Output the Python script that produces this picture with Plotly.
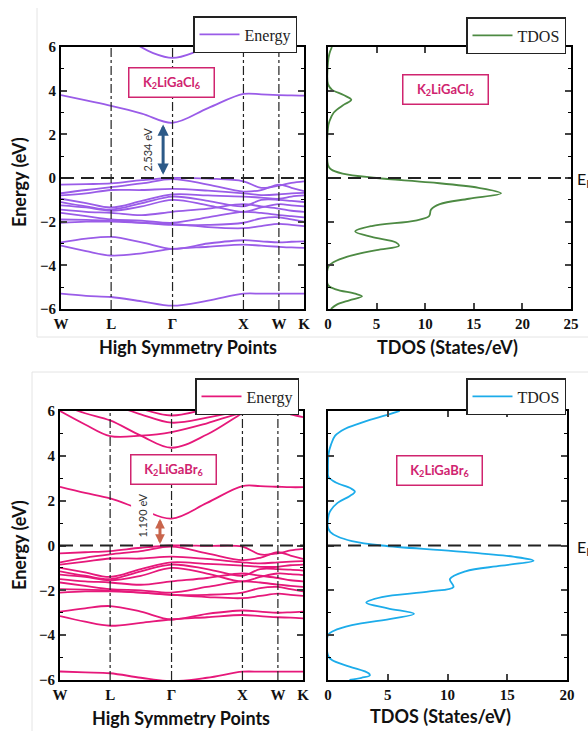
import plotly.graph_objects as go

# ---------------- data ----------------
K_PATH = [0.0, 0.354, 0.707, 1.140, 1.573, 2.073, 2.573, 2.823, 3.073, 3.250, 3.427]
HS_K = [0.0, 0.707, 1.573, 2.573, 3.073, 3.427]
HS_LABELS = ["W", "L", "Γ", "X", "W", "K"]

CL_VB = [
    [-0.30, -0.28, -0.25, -0.10, 0.00, -0.03, -0.15, -0.45, -0.35, -0.22, -0.15],
    [-0.70, -0.55, -0.42, -0.25, -0.05, -0.30, -0.62, -0.55, -0.30, -0.45, -0.60],
    [-0.80, -0.70, -0.55, -0.55, -0.50, -0.58, -0.70, -0.78, -0.75, -0.70, -0.68],
    [-0.95, -1.15, -1.35, -1.05, -0.75, -0.80, -0.85, -0.90, -0.95, -0.85, -0.80],
    [-1.10, -1.30, -1.45, -1.15, -0.85, -1.05, -1.30, -1.00, -1.00, -1.05, -1.10],
    [-1.25, -1.35, -1.50, -1.30, -1.00, -1.25, -1.55, -1.35, -1.20, -1.25, -1.30],
    [-1.45, -1.55, -1.60, -1.70, -1.55, -1.40, -1.20, -1.30, -1.40, -1.50, -1.55],
    [-1.60, -1.75, -1.90, -1.95, -2.05, -1.80, -1.55, -1.60, -1.70, -1.75, -1.80],
    [-1.90, -1.92, -1.95, -2.05, -2.15, -2.15, -2.05, -1.85, -1.80, -1.90, -2.00],
    [-2.05, -2.00, -2.00, -2.05, -2.10, -2.25, -2.30, -2.20, -2.10, -2.15, -2.20],
    [-2.95, -2.78, -2.70, -2.95, -3.25, -3.00, -2.85, -2.90, -2.95, -2.92, -2.90],
    [-3.10, -3.35, -3.55, -3.45, -3.25, -3.15, -3.05, -3.10, -3.15, -3.18, -3.20],
    [-5.30, -5.40, -5.45, -5.65, -5.85, -5.62, -5.30, -5.30, -5.30, -5.30, -5.30],
]
CL_CB = [
    [3.80, 3.55, 3.30, 2.95, 2.53, 3.20, 3.85, 3.83, 3.80, 3.78, 3.77],
]
CL_CB_UPPER_K = [1.05, 1.30, 1.573, 1.85, 2.10]
CL_CB_UPPER_E = [6.15, 5.72, 5.50, 5.72, 6.15]

BR_VB = [
    [-0.35, -0.30, -0.25, -0.10, 0.00, -0.02, -0.05, -0.40, -0.35, -0.22, -0.15],
    [-0.75, -0.55, -0.40, -0.25, -0.05, -0.35, -0.65, -0.55, -0.30, -0.45, -0.60],
    [-0.85, -0.72, -0.58, -0.58, -0.50, -0.60, -0.75, -0.80, -0.75, -0.72, -0.70],
    [-1.00, -1.20, -1.40, -1.05, -0.75, -0.82, -0.90, -0.95, -0.95, -0.88, -0.85],
    [-1.15, -1.35, -1.50, -1.15, -0.85, -1.05, -1.35, -1.05, -1.05, -1.08, -1.12],
    [-1.30, -1.40, -1.55, -1.35, -1.00, -1.25, -1.60, -1.40, -1.25, -1.28, -1.32],
    [-1.50, -1.60, -1.65, -1.75, -1.60, -1.45, -1.25, -1.35, -1.45, -1.55, -1.60],
    [-1.65, -1.80, -1.95, -2.00, -2.10, -1.85, -1.60, -1.65, -1.75, -1.80, -1.85],
    [-1.95, -1.97, -2.00, -2.10, -2.20, -2.20, -2.10, -1.90, -1.85, -1.95, -2.05],
    [-2.10, -2.05, -2.05, -2.10, -2.20, -2.30, -2.35, -2.25, -2.15, -2.20, -2.25],
    [-2.95, -2.80, -2.70, -2.95, -3.30, -3.05, -2.90, -2.95, -3.00, -2.98, -2.95],
    [-3.15, -3.40, -3.58, -3.45, -3.30, -3.20, -3.10, -3.15, -3.20, -3.22, -3.25],
    [-5.62, -5.66, -5.70, -5.90, -6.05, -5.90, -5.63, -5.63, -5.63, -5.63, -5.63],
]
BR_CB = [
    [2.62, 2.35, 2.10, 1.62, 1.20, 1.90, 2.65, 2.65, 2.62, 2.60, 2.60],
    [6.30, 5.90, 5.58, 4.90, 4.36, 4.95, 5.90, 6.30, 6.60, 6.60, 6.60],
    [6.00, 5.40, 4.88, 4.90, 5.06, 5.45, 5.92, 5.95, 6.00, 5.85, 5.73],
    [6.80, 6.50, 6.30, 5.85, 5.48, 5.70, 6.05, 6.30, 6.50, 6.50, 6.50],
    [7.00, 6.80, 6.60, 6.10, 5.80, 6.10, 6.50, 6.80, 7.00, 7.00, 7.00],
]

CL_DOS_E = [6.0, 5.7, 5.3, 4.3, 4.05, 3.8, 3.58, 3.35, 3.0, 2.6, 2.3, 0.6, 0.4, 0.2, 0.0,
            -0.2, -0.45, -0.7, -0.95, -1.2, -1.45, -1.75, -1.95, -2.2, -2.45, -2.7, -2.95,
            -3.1, -3.3, -3.6, -3.85, -4.05, -4.9, -5.1, -5.3, -5.42, -5.6, -5.8, -6.0]
CL_DOS = [0.4, 0.15, 0.0, 0.0, 0.4, 1.6, 2.4, 1.6, 0.6, 0.15, 0.0, 0.0, 0.3, 1.5, 5.0,
          10.5, 15.5, 17.8, 14.5, 11.5, 10.6, 10.4, 9.0, 4.5, 2.8, 4.5, 7.0,
          7.3, 5.0, 2.0, 0.6, 0.05, 0.0, 0.8, 2.8, 3.5, 2.2, 0.9, 0.3]

BR_DOS_E = [6.0, 5.8, 5.6, 5.4, 5.2, 4.9, 4.5, 4.1, 3.4, 3.05, 2.8, 2.55, 2.4, 2.2, 1.9, 1.5,
            1.2, 0.8, 0.6, 0.4, 0.2, 0.0, -0.25, -0.5, -0.68, -0.9, -1.15, -1.5, -1.85,
            -2.05, -2.3, -2.55, -2.8, -3.05, -3.25, -3.55, -3.8, -4.0, -4.9, -5.1, -5.4,
            -5.7, -5.8, -5.9, -6.0]
BR_DOS = [6.0, 4.8, 3.5, 2.4, 1.4, 0.6, 0.25, 0.05, 0.0, 0.05, 0.7, 1.9, 2.25, 1.8, 0.8, 0.15,
          0.0, 0.0, 0.2, 0.8, 2.0, 4.5, 10.5, 15.5, 17.2, 14.5, 11.5, 10.2, 10.5,
          8.5, 4.5, 3.2, 5.0, 7.2, 5.5, 2.0, 0.5, 0.0, 0.0, 0.3, 1.8,
          3.4, 3.5, 2.8, 1.8]

CL_GAP = 2.534
BR_GAP = 1.190

# ---------------- styling ----------------
W, H = 588, 731
CL_BAND = "#9a5ce8"
BR_BAND = "#e6187a"
CL_DOS_C = "#4d8a43"
BR_DOS_C = "#1cacea"
LABEL_C = "#d0246f"
SERIF = "Liberation Serif"
SANS = "Lato"


def px(x):
    return x / W


def py(y):
    return 1 - y / H


fig = go.Figure()


def add_bands(bands, color, xa, ya, leg):
    first = True
    for b in bands:
        fig.add_trace(go.Scatter(
            x=K_PATH, y=b, mode="lines", line=dict(color=color, width=1.8, shape="spline"),
            xaxis=xa, yaxis=ya, name="Energy", legend=leg,
            showlegend=first, hoverinfo="skip"))
        first = False


add_bands(CL_VB + CL_CB, CL_BAND, "x", "y", "legend")
fig.add_trace(go.Scatter(x=CL_CB_UPPER_K, y=CL_CB_UPPER_E, mode="lines",
                         line=dict(color=CL_BAND, width=1.8, shape="spline"),
                         xaxis="x", yaxis="y", showlegend=False, legend="legend"))
add_bands(BR_VB + BR_CB, BR_BAND, "x3", "y3", "legend3")

fig.add_trace(go.Scatter(x=CL_DOS, y=CL_DOS_E, mode="lines", name="TDOS",
                         line=dict(color=CL_DOS_C, width=1.8, shape="spline"),
                         xaxis="x2", yaxis="y2", legend="legend2"))
fig.add_trace(go.Scatter(x=BR_DOS, y=BR_DOS_E, mode="lines", name="TDOS",
                         line=dict(color=BR_DOS_C, width=1.8, shape="spline"),
                         xaxis="x4", yaxis="y4", legend="legend4"))

# axes
tickfont = dict(family=SERIF, size=15, color="#111", weight="bold")
ydom_top = [py(309), py(47)]
ydom_bot = [py(680), py(411)]

common_y = dict(range=[-6, 6], dtick=2, ticks="inside", ticklen=6, tickwidth=1.5,
                showline=True, linecolor="black", linewidth=2, mirror="allticks",
                showgrid=False, zeroline=False, tickfont=tickfont,
                minor=dict(dtick=1, ticks="inside", ticklen=3, tickwidth=1.2, tickcolor="black"))
band_x = dict(range=[0, HS_K[-1]], tickvals=HS_K, ticktext=HS_LABELS, ticks="",
              showline=True, linecolor="black", linewidth=2, mirror=True,
              showgrid=False, zeroline=False, tickfont=tickfont)
dos_x = dict(ticks="inside", ticklen=6, tickwidth=1.5, showline=True, linecolor="black",
             linewidth=2, mirror="allticks", showgrid=False, zeroline=False, tickfont=tickfont)

fig.update_layout(
    xaxis=dict(domain=[px(61), px(304)], anchor="y", **band_x),
    yaxis=dict(domain=ydom_top, anchor="x", **common_y),
    xaxis2=dict(domain=[px(328), px(571)], anchor="y2", range=[0, 25], dtick=5, **dos_x),
    yaxis2=dict(domain=ydom_top, anchor="x2", showticklabels=False, **common_y),
    xaxis3=dict(domain=[px(60), px(303)], anchor="y3", **band_x),
    yaxis3=dict(domain=ydom_bot, anchor="x3", **common_y),
    xaxis4=dict(domain=[px(328), px(567)], anchor="y4", range=[0, 20], dtick=5, **dos_x),
    yaxis4=dict(domain=ydom_bot, anchor="x4", showticklabels=False, **common_y),
)

# legends
leg_common = dict(xanchor="left", yanchor="top", bgcolor="white", bordercolor="#222",
                  borderwidth=1.5, font=dict(family=SERIF, size=16, color="#222"),
                  itemwidth=40, tracegroupgap=0)
fig.update_layout(
    legend=dict(x=px(193), y=py(16), **leg_common),
    legend2=dict(x=px(466), y=py(17), **leg_common),
    legend3=dict(x=px(195), y=py(378), **leg_common),
    legend4=dict(x=px(466), y=py(378), **leg_common),
)

# shapes
shapes = []
for xa, ya in (("x", "y"), ("x3", "y3")):
    for k in HS_K[1:5]:
        shapes.append(dict(type="line", xref=xa, yref=ya + " domain", x0=k, x1=k, y0=0, y1=1,
                           line=dict(color="#222", width=1.2, dash="dashdot")))
for xa, ya in (("x", "y"), ("x2", "y2"), ("x3", "y3"), ("x4", "y4")):
    shapes.append(dict(type="line", xref=xa + " domain", yref=ya, x0=0, x1=1, y0=0, y1=0,
                       line=dict(color="#222", width=2, dash="13px,7px")))
# faint composition frame lines of the original image
for (x0, y0, x1, y1) in ((37, 337, 588, 337), (32, 372, 588, 372), (37, 8, 37, 337), (32, 372, 32, 731)):
    shapes.append(dict(type="line", xref="paper", yref="paper", x0=px(x0), x1=px(x1),
                       y0=py(y0), y1=py(y1), line=dict(color="#e4e4e4", width=1), layer="below"))
fig.update_layout(shapes=shapes)

# annotations
ann = []
title_font = dict(family=SANS, size=18, color="#111", weight="bold")


def paper_text(text, x, y, font, angle=0, xanchor="center"):
    ann.append(dict(text=text, x=px(x), y=py(y), xref="paper", yref="paper",
                    xanchor=xanchor, yanchor="middle", textangle=angle,
                    showarrow=False, font=font))


paper_text("Energy (eV)", 19, 182, title_font, -90)
paper_text("Energy (eV)", 19, 545, title_font, -90)
paper_text("High Symmetry Points", 188, 347, title_font)
paper_text("TDOS (States/eV)", 447, 347, title_font)
paper_text("High Symmetry Points", 181, 718, title_font)
paper_text("TDOS (States/eV)", 440, 716, title_font)
ef_font = dict(family=SANS, size=16, color="#111")
paper_text("E<sub>F</sub>", 575, 180, ef_font, xanchor="left")
paper_text("E<sub>F</sub>", 575, 547, ef_font, xanchor="left")

# material labels
lab_font = dict(family=SANS, size=13, color=LABEL_C, weight="bold")
for text, xa, ya, x, y in (("K<sub>2</sub>LiGaCl<sub>6</sub>", "x", "y", 1.565, 4.36),
                           ("K<sub>2</sub>LiGaCl<sub>6</sub>", "x2", "y2", 12.1, 4.04),
                           ("K<sub>2</sub>LiGaBr<sub>6</sub>", "x3", "y3", 1.594, 3.39),
                           ("K<sub>2</sub>LiGaBr<sub>6</sub>", "x4", "y4", 9.37, 3.35)):
    ann.append(dict(text=text, x=x, y=y, xref=xa, yref=ya, showarrow=False, font=lab_font,
                    xanchor="center", yanchor="middle",
                    bordercolor=LABEL_C, borderwidth=1.5, borderpad=2, bgcolor="white",
                    width=80, height=24))

# band gap arrows
ann.append(dict(x=1.44, y=CL_GAP - 0.08, ax=1.44, ay=0.08, xref="x", yref="y", axref="x", ayref="y",
                text="", showarrow=True, arrowhead=2, startarrowhead=2, arrowside="end+start",
                arrowwidth=3, arrowsize=0.75, startarrowsize=0.75, arrowcolor="#2c5a88"))
ann.append(dict(x=1.227, y=1.3, xref="x", yref="y", text=f"{CL_GAP:.3f} eV", textangle=-90,
                xanchor="center", yanchor="middle",
                showarrow=False, font=dict(family=SANS, size=11, color="#333")))
ann.append(dict(x=1.41, y=BR_GAP, ax=1.41, ay=0.0, xref="x3", yref="y3", axref="x3", ayref="y3",
                text="", showarrow=True, arrowhead=2, startarrowhead=2, arrowside="end+start",
                arrowwidth=3, arrowsize=0.65, startarrowsize=0.65, arrowcolor="#c9654c"))
ann.append(dict(x=1.157, y=1.34, xref="x3", yref="y3", text=f"{BR_GAP:.3f} eV", textangle=-90,
                xanchor="center", yanchor="middle",
                showarrow=False, font=dict(family=SANS, size=11, color="#333"),
                bgcolor="white", borderpad=4))
fig.update_layout(annotations=ann)

fig.update_layout(width=W, height=H, margin=dict(l=0, r=0, t=0, b=0, autoexpand=False),
                  plot_bgcolor="white", paper_bgcolor="white")

# the page body has a default 8px margin; remove it so the 588x731 figure fills the window
fig.write_html("out.html", config={"displayModeBar": False},
               post_script="document.body.style.margin='0';document.body.style.overflow='hidden';")
